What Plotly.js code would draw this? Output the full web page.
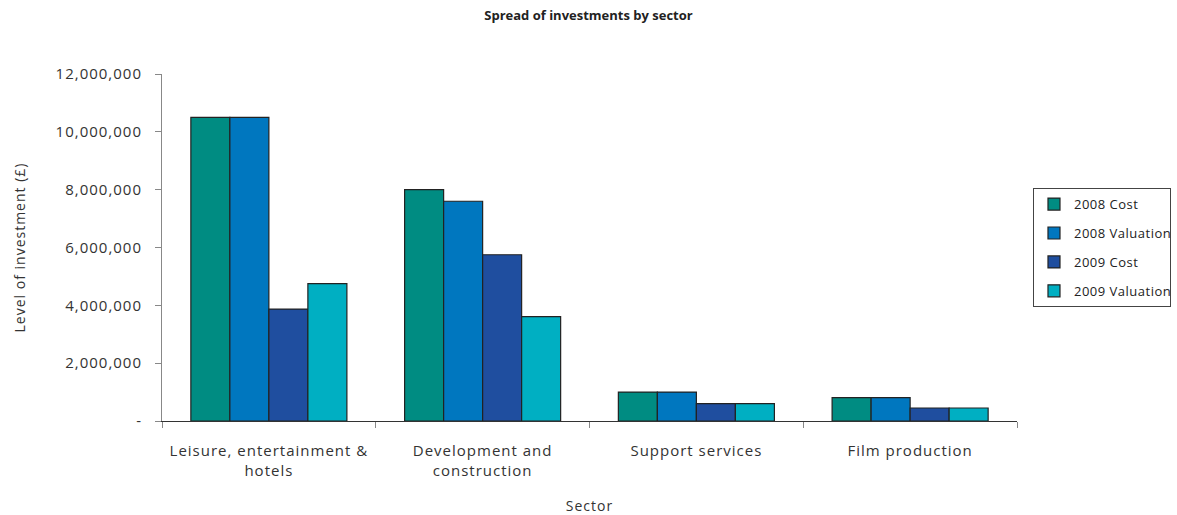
<!DOCTYPE html>
<html>
<head>
<meta charset="utf-8">
<script src="https://cdn.plot.ly/plotly-3.0.1.min.js"></script>
<style>
html,body{margin:0;padding:0;background:#fff;}
#chart .xtick text, #chart .ytick text { letter-spacing: 1px; }
#chart .g-xtitle text, #chart .g-ytitle text { letter-spacing: 1px; }
#chart .legendtext { letter-spacing: 0.5px; }
</style>
</head>
<body>
<div id="chart" style="width:1177px;height:515px;"></div>
<script>
const categories = ["Leisure, entertainment &<br>hotels", "Development and<br>construction", "Support services", "Film production"];
const seriesNames = ["2008 Cost", "2008 Valuation", "2009 Cost", "2009 Valuation"];
const cost2008 = [10500000, 8000000, 1000000, 810000];
const valuation2008 = [10500000, 7600000, 1000000, 810000];
const cost2009 = [3870000, 5750000, 600000, 450000];
const valuation2009 = [4750000, 3610000, 600000, 450000];
const tickValues = [0, 2000000, 4000000, 6000000, 8000000, 10000000, 12000000];
const tickLabels = ["-", "2,000,000", "4,000,000", "6,000,000", "8,000,000", "10,000,000", "12,000,000"];

const colors = ["#008C82", "#0077BF", "#1F4E9F", "#00AFC2"];
const allSeries = [cost2008, valuation2008, cost2009, valuation2009];
const font = "'Open Sans', Lato, sans-serif";

const traces = allSeries.map((vals, i) => ({
  type: "bar",
  name: seriesNames[i],
  x: categories,
  y: vals,
  legendgroup: "g" + i,
  marker: {color: colors[i], line: {color: "#222222", width: 1.2}},
  hoverinfo: "y+name"
}));

const layout = {
  width: 1177, height: 515,
  margin: {l: 162, r: 160, t: 74, b: 94, autoexpand: false},
  paper_bgcolor: "#ffffff", plot_bgcolor: "#ffffff",
  barmode: "group",
  bargap: 0.27, bargroupgap: 0,
  title: {text: "<b>Spread of investments by sector</b>", x: 0.5, xanchor: "center", y: 0.97, yanchor: "middle",
          font: {family: font, size: 13, color: "#222"}},
  font: {family: font, color: "#333"},
  xaxis: {
    title: {text: "Sector", font: {size: 14, color: "#333"}, standoff: 22},
    showline: true, linecolor: "#333", linewidth: 1.2,
    ticks: "outside", tickson: "boundaries", ticklen: 6, tickcolor: "#888",
    ticklabelstandoff: 16,
    tickfont: {size: 15, color: "#333"},
    showgrid: false, zeroline: false, automargin: false
  },
  yaxis: {
    title: {text: "Level of investment (£)", font: {size: 14, color: "#333"}, standoff: 36},
    range: [0, 12000000],
    tickvals: tickValues, ticktext: tickLabels,
    showline: true, linecolor: "#888", linewidth: 1,
    ticks: "outside", ticklen: 6, tickcolor: "#888",
    ticklabelstandoff: 10,
    tickfont: {size: 15, color: "#333"},
    showgrid: false, zeroline: false, automargin: false
  },
  showlegend: true,
  legend: {
    x: 1.0187, xanchor: "left", y: 0.671, yanchor: "top",
    bordercolor: "#444", borderwidth: 1, bgcolor: "#fff",
    font: {size: 13, color: "#222"},
    traceorder: "grouped", tracegroupgap: 9,
    itemwidth: 30
  }
};

Plotly.newPlot("chart", traces, layout, {displayModeBar: false, staticPlot: true});
</script>
</body>
</html>
